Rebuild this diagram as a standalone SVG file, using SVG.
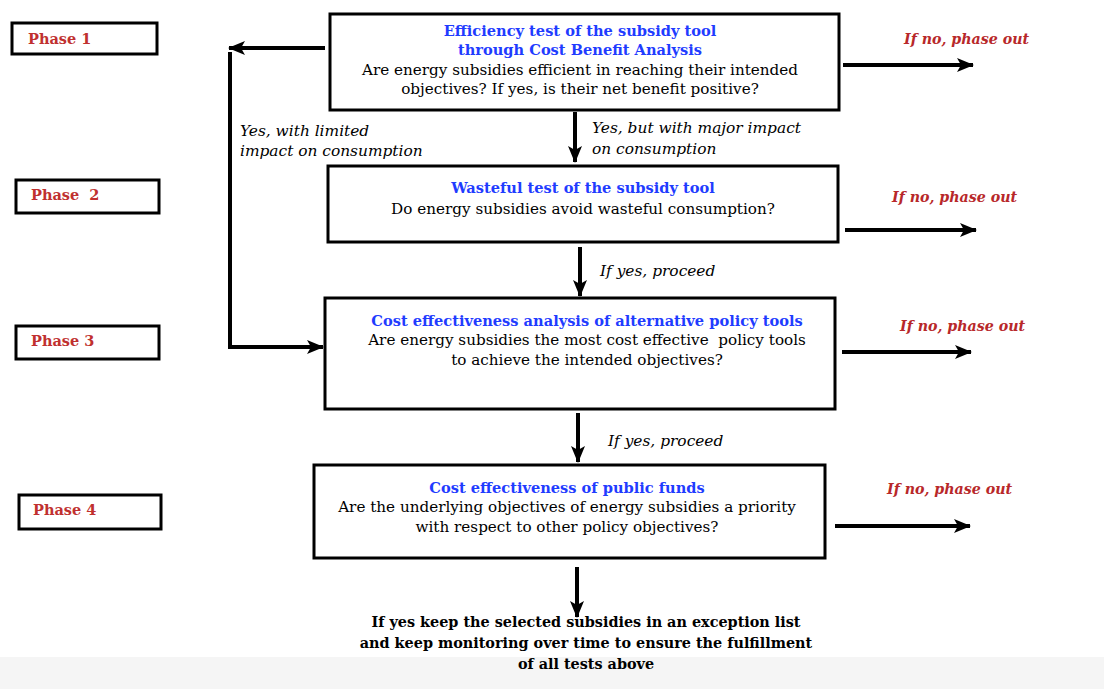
<svg xmlns="http://www.w3.org/2000/svg" width="1104" height="689" viewBox="0 0 1104 689">
<style>
  .box { fill: #ffffff; stroke: #000000; stroke-width: 3; }
  .pbox { fill: #ffffff; stroke: #000000; stroke-width: 3; }
  .phase { font-family: "DejaVu Serif", "Liberation Serif", serif; font-weight: bold; font-size: 14.5px; fill: #c0302f; }
  .title { font-family: "DejaVu Serif", "Liberation Serif", serif; font-weight: bold; font-size: 14.6px; fill: #1f3cff; text-anchor: middle; }
  .body { font-family: "DejaVu Serif", "Liberation Serif", serif; font-size: 15.2px; fill: #000000; text-anchor: middle; }
  .lbl { font-family: "DejaVu Serif", "Liberation Serif", serif; font-style: italic; font-size: 15.4px; fill: #000000; }
  .no { font-family: "DejaVu Serif", "Liberation Serif", serif; font-style: italic; font-weight: bold; font-size: 14.2px; fill: #b8282a; }
  .final { font-family: "DejaVu Serif", "Liberation Serif", serif; font-weight: bold; font-size: 14.4px; fill: #000000; text-anchor: middle; }
  .conn { fill: none; stroke: #000000; stroke-width: 4; }
</style>
<defs>
  <marker id="ah" markerUnits="userSpaceOnUse" markerWidth="20" markerHeight="16" refX="16" refY="8" orient="auto">
    <path d="M0,1 L17,8 L0,15 L4,8 Z" fill="#000000"/>
  </marker>
</defs>
<rect x="0" y="0" width="1104" height="689" fill="#ffffff"/>
<rect x="0" y="657" width="1104" height="32" fill="#f5f5f5"/>

<g id="phase1"><rect class="pbox" x="12" y="23" width="145" height="31"/><text class="phase" x="28" y="44">Phase 1</text></g>
<g id="phase2"><rect class="pbox" x="16" y="180" width="143" height="33"/><text class="phase" x="31" y="200" xml:space="preserve">Phase  2</text></g>
<g id="phase3"><rect class="pbox" x="16" y="326" width="143" height="33"/><text class="phase" x="31" y="346">Phase 3</text></g>
<g id="phase4"><rect class="pbox" x="19" y="495" width="142" height="34"/><text class="phase" x="33" y="515">Phase 4</text></g>

<g id="box1">
  <rect class="box" x="330" y="14" width="509" height="96"/>
  <text class="title" x="580" y="36">Efficiency test of the subsidy tool</text>
  <text class="title" x="580" y="55">through Cost Benefit Analysis</text>
  <text class="body" x="580" y="75">Are energy subsidies efficient in reaching their intended</text>
  <text class="body" x="580" y="94">objectives? If yes, is their net benefit positive?</text>
</g>
<g id="box2">
  <rect class="box" x="328" y="166" width="510" height="76"/>
  <text class="title" x="583" y="193">Wasteful test of the subsidy tool</text>
  <text class="body" x="583" y="214">Do energy subsidies avoid wasteful consumption?</text>
</g>
<g id="box3">
  <rect class="box" x="325" y="298" width="510" height="111"/>
  <text class="title" x="587" y="326">Cost effectiveness analysis of alternative policy tools</text>
  <text class="body" x="587" y="345" xml:space="preserve">Are energy subsidies the most cost effective  policy tools</text>
  <text class="body" x="587" y="365">to achieve the intended objectives?</text>
</g>
<g id="box4">
  <rect class="box" x="314" y="465" width="511" height="93"/>
  <text class="title" x="567" y="493">Cost effectiveness of public funds</text>
  <text class="body" x="567" y="512">Are the underlying objectives of energy subsidies a priority</text>
  <text class="body" x="567" y="532">with respect to other policy objectives?</text>
</g>
<g id="final">
  <text class="final" x="586" y="627">If yes keep the selected subsidies in an exception list</text>
  <text class="final" x="586" y="648">and keep monitoring over time to ensure the fulfillment</text>
  <text class="final" x="586" y="669">of all tests above</text>
</g>

<g id="connectors">
  <line class="conn" x1="325" y1="48" x2="229" y2="48" marker-end="url(#ah)"/>
  <polyline class="conn" points="230,52 230,347 323,347" marker-end="url(#ah)"/>
  <line class="conn" x1="575" y1="112" x2="575" y2="162" marker-end="url(#ah)"/>
  <line class="conn" x1="580" y1="247" x2="580" y2="296" marker-end="url(#ah)"/>
  <line class="conn" x1="578" y1="413" x2="578" y2="462" marker-end="url(#ah)"/>
  <line class="conn" x1="577" y1="567" x2="577" y2="617" marker-end="url(#ah)"/>
  <line class="conn" x1="843" y1="65" x2="973" y2="65" marker-end="url(#ah)"/>
  <line class="conn" x1="845" y1="230" x2="976" y2="230" marker-end="url(#ah)"/>
  <line class="conn" x1="842" y1="352" x2="971" y2="352" marker-end="url(#ah)"/>
  <line class="conn" x1="835" y1="526" x2="970" y2="526" marker-end="url(#ah)"/>
  <text class="lbl" x="240" y="136">Yes, with limited</text>
  <text class="lbl" x="240" y="156">impact on consumption</text>
  <text class="lbl" x="592" y="133">Yes, but with major impact</text>
  <text class="lbl" x="592" y="154">on consumption</text>
  <text class="lbl" x="600" y="276">If yes, proceed</text>
  <text class="lbl" x="608" y="446">If yes, proceed</text>
  <text class="no" x="904" y="44">If no, phase out</text>
  <text class="no" x="892" y="202">If no, phase out</text>
  <text class="no" x="900" y="331">If no, phase out</text>
  <text class="no" x="887" y="494">If no, phase out</text>
</g>
</svg>
